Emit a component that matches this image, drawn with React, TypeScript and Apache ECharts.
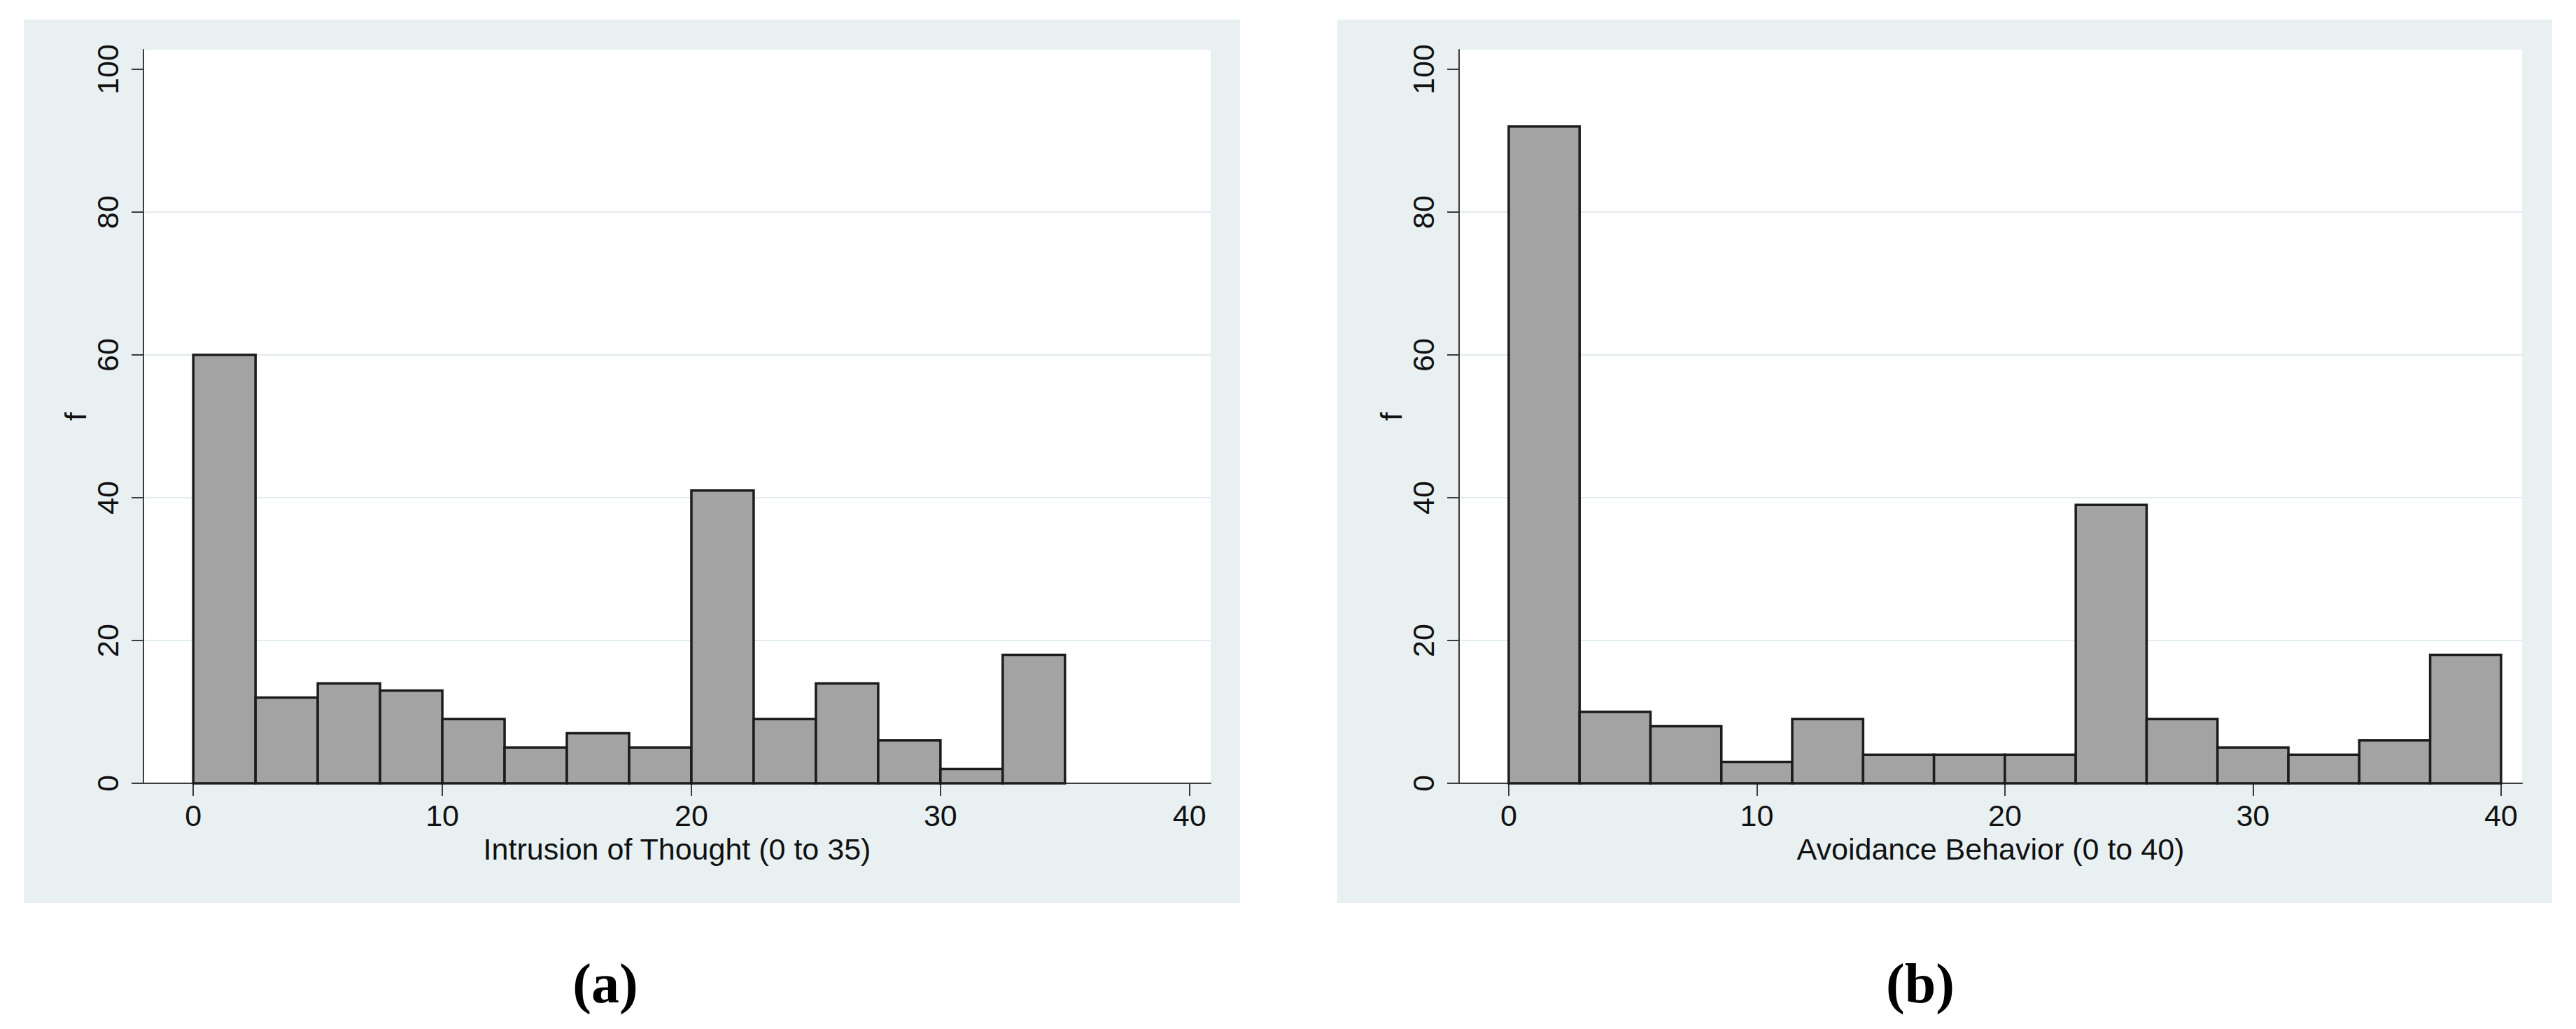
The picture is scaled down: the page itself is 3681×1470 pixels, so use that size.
import React, { useEffect, useRef } from "react";
import * as echarts from "echarts";

// ---- Data ----
const intrusionRange = [0, 35];
const intrusionCounts = [60, 12, 14, 13, 9, 5, 7, 5, 41, 9, 14, 6, 2, 18];
const avoidanceRange = [0, 40];
const avoidanceCounts = [92, 10, 8, 3, 9, 4, 4, 4, 39, 9, 5, 4, 6, 18];
const xTickValues = [0, 10, 20, 30, 40];
const yTickValues = [0, 20, 40, 60, 80, 100];
const xTitles = ["Intrusion of Thought (0 to 35)", "Avoidance Behavior (0 to 40)"];
const yTitle = "f";
const panelLabels = ["(a)", "(b)"];

function toBins(range: number[], counts: number[]) {
  const w = (range[1] - range[0]) / counts.length;
  return counts.map((c, i) => [range[0] + i * w, range[0] + (i + 1) * w, c]);
}

const FONT = "Liberation Sans";
const AXIS_COLOR = "#3c3c3c";
const PANEL_BG = "#e8f0f2";

export default function App() {
  const ref = useRef<HTMLDivElement>(null);

  useEffect(() => {
    if (!ref.current) return;
    const chart = echarts.init(ref.current, undefined, { renderer: "svg" });

    const grids = [
      { left: 205, top: 71, width: 1525, height: 1048 },
      { left: 2085, top: 71, width: 1519, height: 1048 },
    ];
    const binsList = [toBins(intrusionRange, intrusionCounts), toBins(avoidanceRange, avoidanceCounts)];

    const xAxes = grids.map((_, i) => ({
      type: "value",
      gridIndex: i,
      min: -2,
      max: 40.85,
      axisLine: { show: true, onZero: false, lineStyle: { color: AXIS_COLOR, width: 2 } },
      axisTick: { show: true, length: 18, customValues: xTickValues, lineStyle: { color: AXIS_COLOR, width: 2 } },
      axisLabel: { customValues: xTickValues, fontSize: 43, fontFamily: FONT, color: "#111", margin: 24 },
      splitLine: { show: false },
      name: xTitles[i],
      nameLocation: "middle",
      nameGap: 72,
      nameTextStyle: { fontSize: 43, fontFamily: FONT, color: "#111" },
    }));

    const yAxes = grids.map((_, i) => ({
      type: "value",
      gridIndex: i,
      min: 0,
      max: 102.75,
      interval: 20,
      axisLine: { show: true, onZero: false, lineStyle: { color: AXIS_COLOR, width: 2 } },
      axisTick: { show: true, length: 17, customValues: yTickValues, lineStyle: { color: AXIS_COLOR, width: 2 } },
      axisLabel: { customValues: yTickValues, rotate: 90, fontSize: 43, fontFamily: FONT, color: "#111", margin: 30 },
      splitLine: { show: true, showMinLine: false, showMaxLine: false, lineStyle: { color: "#e2ebed", width: 2 } },
      name: yTitle,
      nameLocation: "middle",
      nameRotate: 90,
      nameGap: 76,
      nameTextStyle: { fontSize: 43, fontFamily: FONT, color: "#111" },
    }));

    const series = binsList.map((bins, i) => ({
      type: "custom",
      xAxisIndex: i,
      yAxisIndex: i,
      encode: { x: [0, 1], y: 2 },
      data: bins,
      renderItem: (params: any, api: any) => {
        const p0 = api.coord([api.value(0), 0]);
        const p1 = api.coord([api.value(1), api.value(2)]);
        return {
          type: "rect",
          shape: { x: p0[0], y: p1[1], width: p1[0] - p0[0], height: p0[1] - p1[1] },
          style: { fill: "#a3a3a3", stroke: "#1c1c1c", lineWidth: 3.5 },
        };
      },
    }));

    chart.setOption({
      animation: false,
      backgroundColor: "#ffffff",
      grid: grids.map((g) => ({ ...g, show: true, backgroundColor: "#ffffff", borderWidth: 0, containLabel: false })),
      xAxis: xAxes,
      yAxis: yAxes,
      series,
      graphic: [
        { type: "rect", z: -100, shape: { x: 34, y: 28, width: 1738, height: 1262 }, style: { fill: PANEL_BG } },
        { type: "rect", z: -100, shape: { x: 1911, y: 28, width: 1736, height: 1262 }, style: { fill: PANEL_BG } },
        {
          type: "text",
          x: 865,
          y: 1405,
          style: {
            text: panelLabels[0],
            font: 'bold 80px "Liberation Serif"',
            fill: "#000",
            textAlign: "center",
            textVerticalAlign: "middle",
            align: "center",
            verticalAlign: "middle",
          },
        },
        {
          type: "text",
          x: 2744,
          y: 1405,
          style: {
            text: panelLabels[1],
            font: 'bold 80px "Liberation Serif"',
            fill: "#000",
            textAlign: "center",
            textVerticalAlign: "middle",
            align: "center",
            verticalAlign: "middle",
          },
        },
      ],
    });

    return () => chart.dispose();
  }, []);

  return (
    <div
      ref={ref}
      style={{ position: "fixed", left: 0, top: 0, width: 3681, height: 1470, background: "#fff" }}
    />
  );
}
